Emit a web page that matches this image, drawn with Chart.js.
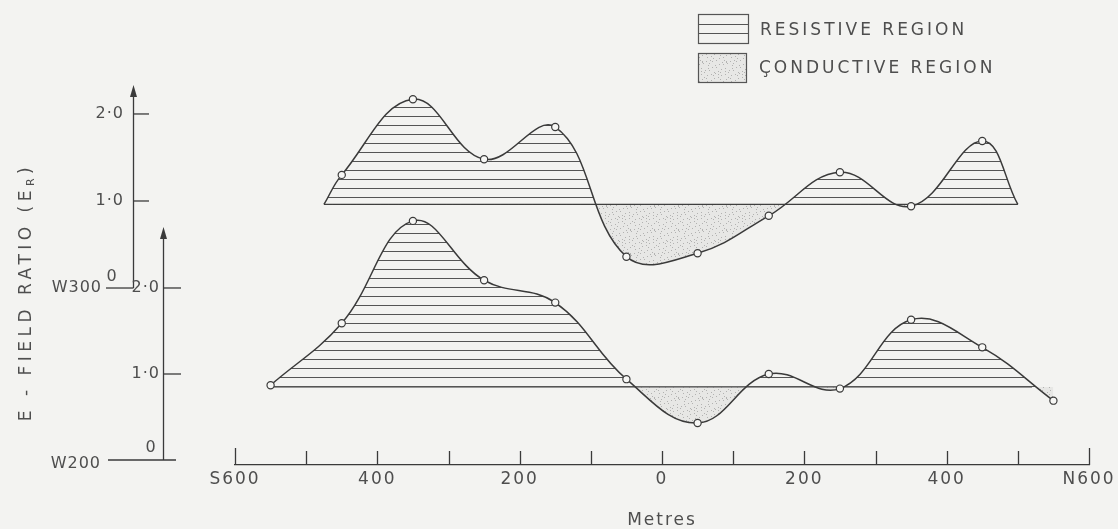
<!DOCTYPE html>
<html><head><meta charset="utf-8">
<script src="https://cdn.jsdelivr.net/npm/chart.js@4.4.0/dist/chart.umd.min.js"></script>
<style>html,body{margin:0;padding:0;background:#f3f3f1;overflow:hidden;}</style>
</head><body>
<canvas id="c" width="1118" height="529"></canvas>
<script>
// ---------- data ----------
const upperStations = [-475, -450, -350, -250, -150, -50, 50, 150, 250, 350, 450, 500];
const upperValues   = [0.96, 1.30, 2.17, 1.48, 1.85, 0.36, 0.40, 0.83, 1.33, 0.94, 1.69, 0.96];
const upperMarkers  = [0, 1, 1, 1, 1, 1, 1, 1, 1, 1, 1, 0];
const upperBaseline = 0.96;
const upperBaseExtent = [-475, 500];

const lowerStations = [-550, -450, -350, -250, -150, -50, 50, 150, 250, 350, 450, 550];
const lowerValues   = [0.87, 1.59, 2.78, 2.09, 1.83, 0.94, 0.43, 1.00, 0.83, 1.63, 1.31, 0.69];
const lowerMarkers  = [1, 1, 1, 1, 1, 1, 1, 1, 1, 1, 1, 1];
const lowerBaseline = 0.85;
const lowerBaseExtent = [-550, 520];

const xTickValues = [-600, -500, -400, -300, -200, -100, 0, 100, 200, 300, 400, 500, 600];
const xTickLabels = {"-600": "S600", "-400": "400", "-200": "200", "0": "0", "200": "200", "400": "400", "600": "N600"};
const yTickValues = [0, 1, 2];
const yTickLabels = ["0", "1·0", "2·0"];
const profileNames = ["W300", "W200"];
const legendLabels = ["RESISTIVE REGION", "ÇONDUCTIVE REGION"];
const xTitle = "Metres";
const yTitleMain = "E - FIELD RATIO (E";
const yTitleSub = "R";

// ---------- styles ----------
const INK = '#3a3a3a';
const TXT = '#4e4e4e';
const BG = '#f3f3f1';
const FONT = '"DejaVu Sans", sans-serif';

function makeHatch() {
  const c = document.createElement('canvas');
  c.width = 8; c.height = 9;
  const g = c.getContext('2d');
  g.fillStyle = '#555555';
  g.fillRect(0, 8, 8, 1);
  return g.createPattern(c, 'repeat');
}
function makeDots() {
  const c = document.createElement('canvas');
  c.width = 24; c.height = 24;
  const g = c.getContext('2d');
  g.fillStyle = 'rgba(170,170,170,0.16)';
  g.fillRect(0, 0, 24, 24);
  g.fillStyle = 'rgba(105,105,105,0.42)';
  for (let i = 0; i < 44; i++) {
    const px = (i * 37 + (i * i) % 5) % 24;
    const py = (i * 53 + (i * 7) % 11) % 24;
    g.fillRect(px, py, 1, 1);
  }
  return g.createPattern(c, 'repeat');
}
const hatch = makeHatch();
const dots = makeDots();

function pts(xs, ys) { return xs.map((x, i) => ({x: x, y: ys[i]})); }

const decoPlugin = {
  id: 'deco',
  beforeDraw(chart) {
    const ctx = chart.ctx;
    ctx.save();
    ctx.fillStyle = BG;
    ctx.fillRect(0, 0, chart.width, chart.height);
    ctx.restore();
    ctx.letterSpacing = '2px';
  },
  afterDraw(chart) {
    const ctx = chart.ctx;
    const xs = chart.scales.x;
    ctx.save();
    ctx.strokeStyle = INK;
    ctx.lineWidth = 1.3;
    // upward tick marks on the x axis
    xTickValues.forEach((v, i) => {
      const px = Math.round(xs.getPixelForValue(v)) + 0.5;
      const len = (i === 0 || i === xTickValues.length - 1) ? 17 : 14;
      ctx.beginPath(); ctx.moveTo(px, xs.top); ctx.lineTo(px, xs.top - len); ctx.stroke();
    });

    // profile axes
    function profileAxis(scale, axX, topVal, tickEnd, lblRight, zeroX, zeroY, baseFrom, baseTo, name, nameRight, nameDy) {
      const y0 = scale.getPixelForValue(0);
      const yTop = scale.getPixelForValue(topVal);
      ctx.strokeStyle = INK; ctx.fillStyle = INK; ctx.lineWidth = 1.3;
      ctx.beginPath(); ctx.moveTo(axX, y0); ctx.lineTo(axX, yTop + 8); ctx.stroke();
      ctx.beginPath(); ctx.moveTo(axX, yTop); ctx.lineTo(axX - 3.5, yTop + 12); ctx.lineTo(axX + 3.5, yTop + 12); ctx.closePath(); ctx.fill();
      ctx.beginPath(); ctx.moveTo(baseFrom, y0); ctx.lineTo(baseTo, y0); ctx.stroke();
      ctx.fillStyle = TXT;
      ctx.font = '16px ' + FONT;
      ctx.letterSpacing = '1px';
      ctx.textBaseline = 'middle';
      yTickValues.forEach((v, i) => {
        if (v === 0) return;
        const py = scale.getPixelForValue(v);
        ctx.beginPath(); ctx.moveTo(axX, py); ctx.lineTo(tickEnd, py); ctx.stroke();
        ctx.textAlign = 'right';
        ctx.fillText(yTickLabels[i], lblRight, py);
      });
      ctx.textAlign = 'center';
      ctx.fillText(yTickLabels[0], zeroX, y0 + zeroY);
      ctx.textAlign = 'right';
      ctx.fillText(name, nameRight, y0 + nameDy);
    }
    profileAxis(chart.scales.y1, 133.5, 2.333, 149, 124, 112, -11, 106, 133.5, profileNames[0], 102, 0);
    profileAxis(chart.scales.y2, 163.5, 2.71, 181, 160, 151, -12, 108, 176, profileNames[1], 101, 4);

    // y title (rotated)
    ctx.save();
    ctx.translate(27, 292);
    ctx.rotate(-Math.PI / 2);
    ctx.fillStyle = TXT;
    ctx.textBaseline = 'middle';
    ctx.textAlign = 'left';
    ctx.letterSpacing = '4.5px';
    ctx.font = '17px ' + FONT;
    const w1 = ctx.measureText(yTitleMain).width;
    const w3 = ctx.measureText(')').width;
    ctx.font = '11px ' + FONT;
    const w2 = ctx.measureText(yTitleSub).width;
    const total = w1 + w2 + w3;
    let cx = -total / 2;
    ctx.font = '17px ' + FONT;
    ctx.fillText(yTitleMain, cx, 0); cx += w1;
    ctx.font = '11px ' + FONT;
    ctx.fillText(yTitleSub, cx, 4); cx += w2;
    ctx.font = '17px ' + FONT;
    ctx.fillText(')', cx, 0);
    ctx.restore();

    // legend
    ctx.lineWidth = 1.2;
    ctx.strokeStyle = '#555';
    ctx.fillStyle = BG;
    ctx.fillRect(698, 14, 50, 29);
    ctx.strokeRect(698.5, 14.5, 50, 29);
    ctx.beginPath(); ctx.moveTo(698.5, 24.5); ctx.lineTo(748.5, 24.5); ctx.moveTo(698.5, 33.5); ctx.lineTo(748.5, 33.5); ctx.stroke();
    ctx.fillStyle = dots;
    ctx.fillRect(698, 53, 48, 29);
    ctx.strokeRect(698.5, 53.5, 48, 29);
    ctx.fillStyle = TXT;
    ctx.font = '17px ' + FONT;
    ctx.letterSpacing = '3px';
    ctx.textAlign = 'left';
    ctx.textBaseline = 'middle';
    ctx.fillText(legendLabels[0], 760, 31);
    ctx.fillText(legendLabels[1], 759, 69);
    ctx.restore();
    ctx.letterSpacing = '0px';
  }
};

const common = {
  borderColor: INK, borderWidth: 1.5, tension: 0.4,
  pointBackgroundColor: '#f7f7f5', pointBorderColor: INK, pointBorderWidth: 1.2
};

new Chart(document.getElementById('c'), {
  type: 'line',
  data: {
    datasets: [
      Object.assign({}, common, {
        label: profileNames[0], yAxisID: 'y1',
        data: pts(upperStations, upperValues),
        pointRadius: upperMarkers.map(m => m ? 3.6 : 0),
        fill: {target: {value: upperBaseline}, above: hatch, below: dots}
      }),
      Object.assign({}, common, {
        label: profileNames[1], yAxisID: 'y2',
        data: pts(lowerStations, lowerValues),
        pointRadius: lowerMarkers.map(m => m ? 3.6 : 0),
        fill: {target: {value: lowerBaseline}, above: hatch, below: dots}
      }),
      {
        label: 'base1', yAxisID: 'y1', borderColor: INK, borderWidth: 1.3, pointRadius: 0, fill: false, tension: 0,
        data: pts(upperBaseExtent, [upperBaseline, upperBaseline])
      },
      {
        label: 'base2', yAxisID: 'y2', borderColor: INK, borderWidth: 1.3, pointRadius: 0, fill: false, tension: 0,
        data: pts(lowerBaseExtent, [lowerBaseline, lowerBaseline])
      }
    ]
  },
  options: {
    responsive: false, animation: false, devicePixelRatio: 1, events: [],
    layout: {padding: {left: 235, right: 29, top: 85, bottom: 0}},
    plugins: {legend: {display: false}, tooltip: {enabled: false}},
    scales: {
      x: {
        type: 'linear', min: -600, max: 600,
        afterFit(s) { s.height = 64; },
        afterBuildTicks(s) { s.ticks = xTickValues.map(v => ({value: v})); },
        ticks: {
          autoSkip: false, maxRotation: 0, padding: 4, color: TXT,
          font: {family: FONT, size: 17},
          callback: (v) => (xTickLabels[String(v)] !== undefined ? xTickLabels[String(v)] : '')
        },
        grid: {display: false, drawTicks: false},
        border: {display: true, color: INK, width: 1.3},
        title: {display: true, text: xTitle, color: TXT, font: {family: FONT, size: 17}, padding: {top: 0, bottom: -2}}
      },
      y1: {type: 'linear', display: false, min: -2.034, max: 2.333},
      y2: {type: 'linear', display: false, min: -0.058, max: 4.36}
    }
  },
  plugins: [decoPlugin]
});
</script>
</body></html>
